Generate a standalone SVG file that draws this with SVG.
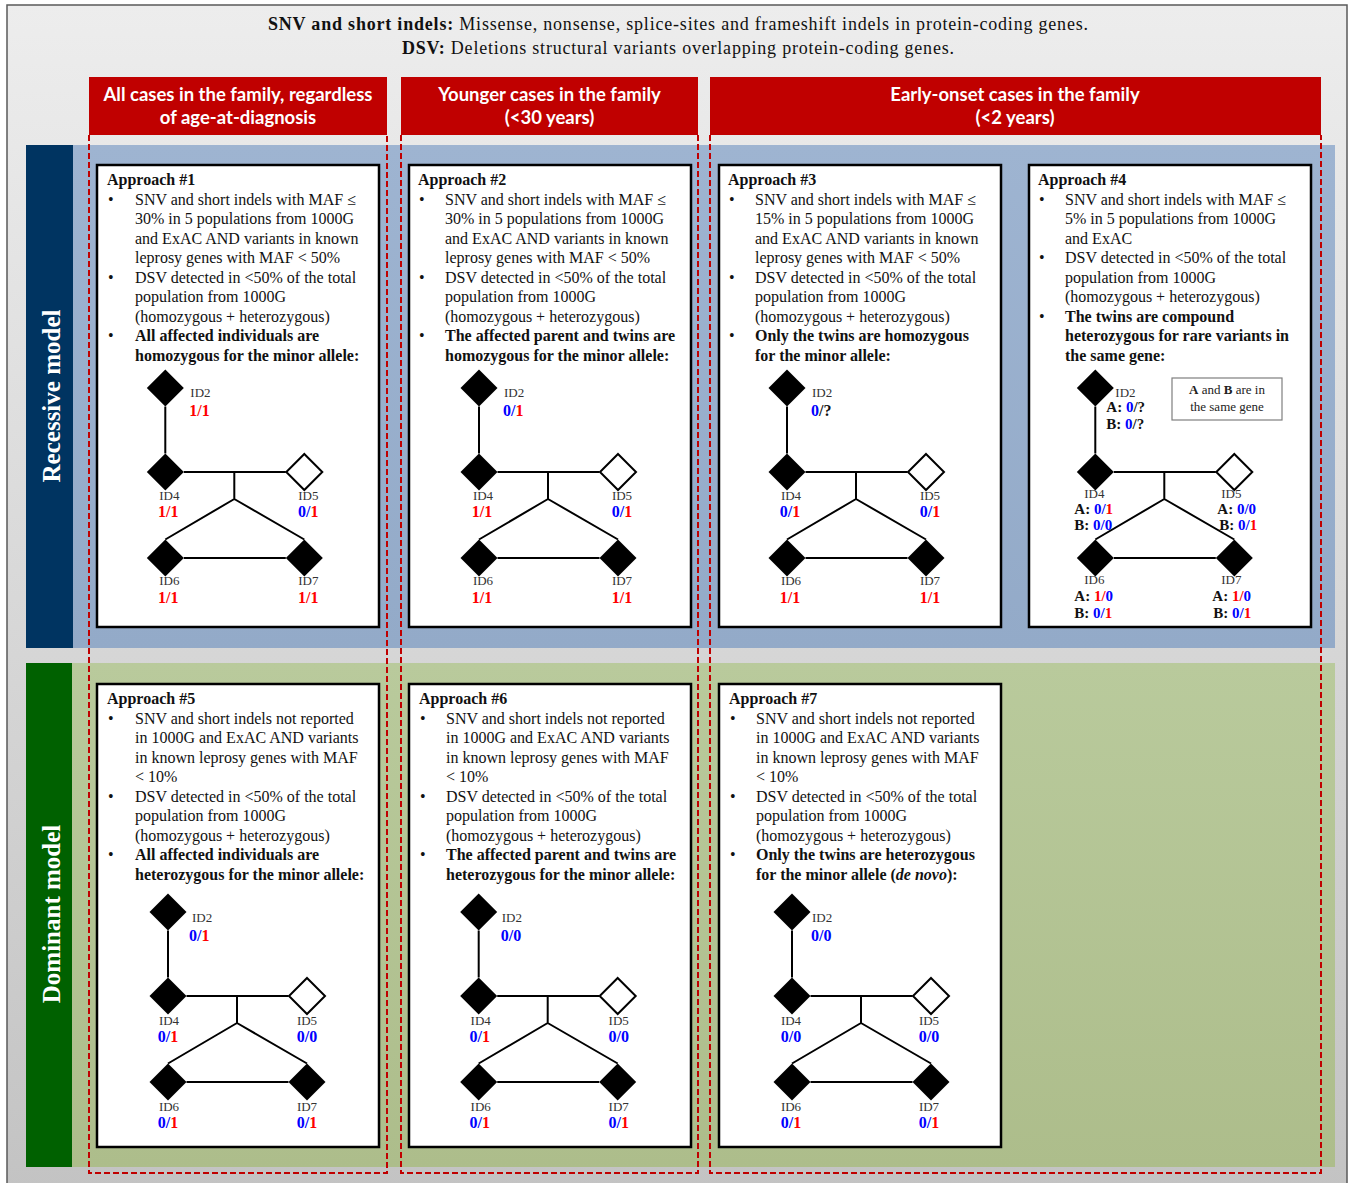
<svg xmlns="http://www.w3.org/2000/svg" xmlns:xlink="http://www.w3.org/1999/xlink" width="1349" height="1183" viewBox="0 0 1349 1183">
<style>
.t{font-family:"Liberation Serif","Times New Roman",serif;font-size:16px;fill:#111}
.b{font-weight:bold}
.i{font-style:italic}
.hd{font-family:Lato,"Open Sans","Liberation Sans",sans-serif;font-size:18.5px;font-weight:bold;fill:#fff;text-anchor:middle}
.side{font-family:"Liberation Serif","Times New Roman",serif;font-size:25px;font-weight:bold;fill:#fff;text-anchor:middle}
.id{font-family:"Liberation Serif","Times New Roman",serif;font-size:13px;fill:#333}
.g{font-family:"Liberation Serif","Times New Roman",serif;font-size:16px;font-weight:bold;fill:#111}
.ab{font-family:"Liberation Serif","Times New Roman",serif;font-size:15px;font-weight:bold;fill:#111}
.m{text-anchor:middle}
.r{fill:#ff0000}
.bl{fill:#0000ff}
.ln{stroke:#000;stroke-width:2;fill:none}
.box{fill:#fff;stroke:#000;stroke-width:2.5}
.dash{fill:none;stroke:#c00000;stroke-width:2;stroke-dasharray:6 3}
.hdr{fill:#c00000}
</style>
<defs>
<linearGradient id="bg" x1="0" y1="0" x2="0" y2="1"><stop offset="0" stop-color="#ededed"/><stop offset="1" stop-color="#c3c3c3"/></linearGradient>
<linearGradient id="blueg" x1="0" y1="0" x2="0" y2="1"><stop offset="0" stop-color="#9eb4d1"/><stop offset="1" stop-color="#93aac8"/></linearGradient>
<linearGradient id="greeng" x1="0" y1="0" x2="0" y2="1"><stop offset="0" stop-color="#b9ca9c"/><stop offset="1" stop-color="#adbd8b"/></linearGradient>
<path id="dk" d="M0,-18.5L18.5,0L0,18.5L-18.5,0Z" fill="#000"/>
<path id="dw" d="M0,-18L18,0L0,18L-18,0Z" fill="#fff" stroke="#000" stroke-width="2"/>
<path id="links" class="ln" d="M0,18.5V65.5M18.5,84H120.5M69,84V111M69,111L0,151.5M69,111L139,151.5M18.5,170H120.5"/>
</defs>

<g id="background">
<rect x="7" y="5" width="1340" height="1186" fill="url(#bg)" stroke="#5a5a5a" stroke-width="1.5"/>
<text class="t" x="678" y="30" text-anchor="middle" style="font-size:18px" textLength="820" lengthAdjust="spacing"><tspan class="b">SNV and short indels:</tspan> Missense, nonsense, splice-sites and frameshift indels in protein-coding genes.</text>
<text class="t" x="678" y="54" text-anchor="middle" style="font-size:18px" textLength="552" lengthAdjust="spacing"><tspan class="b">DSV:</tspan> Deletions structural variants overlapping protein-coding genes.</text>
</g>

<g id="recessive-band">
<rect x="26" y="145" width="1309" height="503" fill="url(#blueg)"/>
<rect x="26" y="145" width="47" height="503" fill="#003461"/>
<text class="side" transform="translate(60,396) rotate(-90)">Recessive model</text>
</g>
<g id="dominant-band">
<rect x="26" y="663" width="1309" height="504" fill="url(#greeng)"/>
<rect x="26" y="663" width="46" height="504" fill="#006100"/>
<text class="side" transform="translate(60,914) rotate(-90)">Dominant model</text>
</g>

<g id="columns">
<path class="dash" d="M89,135V1173H387V135"/>
<path class="dash" d="M401,135V1173H698V135"/>
<path class="dash" d="M710,135V1173H1321V135"/>
</g>

<g id="header-all">
<rect class="hdr" x="89" y="77" width="298" height="58"/>
<text class="hd" x="238" y="101">All cases in the family, regardless</text>
<text class="hd" x="238" y="124">of age-at-diagnosis</text>
</g>
<g id="header-younger">
<rect class="hdr" x="401" y="77" width="297" height="58"/>
<text class="hd" x="549.5" y="101">Younger cases in the family</text>
<text class="hd" x="549.5" y="124">(&lt;30 years)</text>
</g>
<g id="header-early">
<rect class="hdr" x="710" y="77" width="611" height="58"/>
<text class="hd" x="1015" y="101">Early-onset cases in the family</text>
<text class="hd" x="1015" y="124">(&lt;2 years)</text>
</g>

<!-- Approach 1 -->
<g id="approach1">
<rect class="box" x="97" y="165" width="282" height="462"/>
<text class="t">
<tspan x="107" y="185" class="b">Approach #1</tspan>
<tspan x="108" y="204.5">•</tspan><tspan x="135" y="204.5">SNV and short indels with MAF ≤</tspan>
<tspan x="135" y="224">30% in 5 populations from 1000G</tspan>
<tspan x="135" y="243.5">and ExAC AND variants in known</tspan>
<tspan x="135" y="263">leprosy genes with MAF &lt; 50%</tspan>
<tspan x="108" y="282.5">•</tspan><tspan x="135" y="282.5">DSV detected in &lt;50% of the total</tspan>
<tspan x="135" y="302">population from 1000G</tspan>
<tspan x="135" y="321.5">(homozygous + heterozygous)</tspan>
<tspan x="108" y="341">•</tspan><tspan x="135" y="341" class="b">All affected individuals are</tspan>
<tspan x="135" y="360.5" class="b">homozygous for the minor allele:</tspan>
</text>
<g id="ped1" transform="translate(165.3,388)">
<g class="connectors"><use href="#links"/></g>
<g id="p1-ID2"><use href="#dk"/><text class="id" x="25" y="9">ID2</text><text class="g" x="24" y="28"><tspan class="r">1/1</tspan></text></g>
<g id="p1-ID4" transform="translate(0,84)"><use href="#dk"/><text class="id m" x="4" y="28">ID4</text><text class="g m" x="3" y="45"><tspan class="r">1/1</tspan></text></g>
<g id="p1-ID5" transform="translate(139,84)"><use href="#dw"/><text class="id m" x="4" y="28">ID5</text><text class="g m" x="4" y="45"><tspan class="bl">0/</tspan><tspan class="r">1</tspan></text></g>
<g id="p1-ID6" transform="translate(0,170)"><use href="#dk"/><text class="id m" x="4" y="27">ID6</text><text class="g m" x="3" y="45"><tspan class="r">1/1</tspan></text></g>
<g id="p1-ID7" transform="translate(139,170)"><use href="#dk"/><text class="id m" x="4" y="27">ID7</text><text class="g m" x="4" y="45"><tspan class="r">1/1</tspan></text></g>
</g>
</g>

<!-- Approach 2 -->
<g id="approach2">
<rect class="box" x="409" y="165" width="282" height="462"/>
<text class="t">
<tspan x="418" y="185" class="b">Approach #2</tspan>
<tspan x="419" y="204.5">•</tspan><tspan x="445" y="204.5">SNV and short indels with MAF ≤</tspan>
<tspan x="445" y="224">30% in 5 populations from 1000G</tspan>
<tspan x="445" y="243.5">and ExAC AND variants in known</tspan>
<tspan x="445" y="263">leprosy genes with MAF &lt; 50%</tspan>
<tspan x="419" y="282.5">•</tspan><tspan x="445" y="282.5">DSV detected in &lt;50% of the total</tspan>
<tspan x="445" y="302">population from 1000G</tspan>
<tspan x="445" y="321.5">(homozygous + heterozygous)</tspan>
<tspan x="419" y="341">•</tspan><tspan x="445" y="341" class="b">The affected parent and twins are</tspan>
<tspan x="445" y="360.5" class="b">homozygous for the minor allele:</tspan>
</text>
<g id="ped2" transform="translate(479,388)">
<g class="connectors"><use href="#links"/></g>
<g id="p2-ID2"><use href="#dk"/><text class="id" x="25" y="9">ID2</text><text class="g" x="24" y="28"><tspan class="bl">0/</tspan><tspan class="r">1</tspan></text></g>
<g id="p2-ID4" transform="translate(0,84)"><use href="#dk"/><text class="id m" x="4" y="28">ID4</text><text class="g m" x="3" y="45"><tspan class="r">1/1</tspan></text></g>
<g id="p2-ID5" transform="translate(139,84)"><use href="#dw"/><text class="id m" x="4" y="28">ID5</text><text class="g m" x="4" y="45"><tspan class="bl">0/</tspan><tspan class="r">1</tspan></text></g>
<g id="p2-ID6" transform="translate(0,170)"><use href="#dk"/><text class="id m" x="4" y="27">ID6</text><text class="g m" x="3" y="45"><tspan class="r">1/1</tspan></text></g>
<g id="p2-ID7" transform="translate(139,170)"><use href="#dk"/><text class="id m" x="4" y="27">ID7</text><text class="g m" x="4" y="45"><tspan class="r">1/1</tspan></text></g>
</g>
</g>

<!-- Approach 3 -->
<g id="approach3">
<rect class="box" x="719" y="165" width="282" height="462"/>
<text class="t">
<tspan x="728" y="185" class="b">Approach #3</tspan>
<tspan x="729" y="204.5">•</tspan><tspan x="755" y="204.5">SNV and short indels with MAF ≤</tspan>
<tspan x="755" y="224">15% in 5 populations from 1000G</tspan>
<tspan x="755" y="243.5">and ExAC AND variants in known</tspan>
<tspan x="755" y="263">leprosy genes with MAF &lt; 50%</tspan>
<tspan x="729" y="282.5">•</tspan><tspan x="755" y="282.5">DSV detected in &lt;50% of the total</tspan>
<tspan x="755" y="302">population from 1000G</tspan>
<tspan x="755" y="321.5">(homozygous + heterozygous)</tspan>
<tspan x="729" y="341">•</tspan><tspan x="755" y="341" class="b">Only the twins are homozygous</tspan>
<tspan x="755" y="360.5" class="b">for the minor allele:</tspan>
</text>
<g id="ped3" transform="translate(787,388)">
<g class="connectors"><use href="#links"/></g>
<g id="p3-ID2"><use href="#dk"/><text class="id" x="25" y="9">ID2</text><text class="g" x="24" y="28"><tspan class="bl">0</tspan>/?</text></g>
<g id="p3-ID4" transform="translate(0,84)"><use href="#dk"/><text class="id m" x="4" y="28">ID4</text><text class="g m" x="3" y="45"><tspan class="bl">0/</tspan><tspan class="r">1</tspan></text></g>
<g id="p3-ID5" transform="translate(139,84)"><use href="#dw"/><text class="id m" x="4" y="28">ID5</text><text class="g m" x="4" y="45"><tspan class="bl">0/</tspan><tspan class="r">1</tspan></text></g>
<g id="p3-ID6" transform="translate(0,170)"><use href="#dk"/><text class="id m" x="4" y="27">ID6</text><text class="g m" x="3" y="45"><tspan class="r">1/1</tspan></text></g>
<g id="p3-ID7" transform="translate(139,170)"><use href="#dk"/><text class="id m" x="4" y="27">ID7</text><text class="g m" x="4" y="45"><tspan class="r">1/1</tspan></text></g>
</g>
</g>

<!-- Approach 4 -->
<g id="approach4">
<rect class="box" x="1029" y="165" width="282" height="462"/>
<text class="t">
<tspan x="1038" y="185" class="b">Approach #4</tspan>
<tspan x="1039" y="204.5">•</tspan><tspan x="1065" y="204.5">SNV and short indels with MAF ≤</tspan>
<tspan x="1065" y="224">5% in 5 populations from 1000G</tspan>
<tspan x="1065" y="243.5">and ExAC</tspan>
<tspan x="1039" y="263">•</tspan><tspan x="1065" y="263">DSV detected in &lt;50% of the total</tspan>
<tspan x="1065" y="282.5">population from 1000G</tspan>
<tspan x="1065" y="302">(homozygous + heterozygous)</tspan>
<tspan x="1039" y="321.5">•</tspan><tspan x="1065" y="321.5" class="b">The twins are compound</tspan>
<tspan x="1065" y="341" class="b">heterozygous for rare variants in</tspan>
<tspan x="1065" y="360.5" class="b">the same gene:</tspan>
</text>
<g id="legend4">
<rect x="1172" y="378" width="110" height="42" fill="#fff" stroke="#7f7f7f" stroke-width="1.2"/>
<text class="id m" x="1227" y="394" style="fill:#222"><tspan class="b">A</tspan> and <tspan class="b">B</tspan> are in</text>
<text class="id m" x="1227" y="411" style="fill:#222">the same gene</text>
</g>
<g id="ped4" transform="translate(1095.3,388)">
<g class="connectors"><use href="#links"/></g>
<g id="p4-ID2"><use href="#dk"/><text class="id" x="20" y="9">ID2</text>
<text class="ab" x="11" y="24">A: <tspan class="bl">0</tspan>/?</text>
<text class="ab" x="11" y="41">B: <tspan class="bl">0</tspan>/?</text></g>
<g id="p4-ID4" transform="translate(0,84)"><use href="#dk"/><text class="id m" x="-1" y="25.5">ID4</text>
<text class="ab" x="-21" y="41.5">A: <tspan class="bl">0/</tspan><tspan class="r">1</tspan></text>
<text class="ab" x="-21" y="58">B: <tspan class="bl">0/0</tspan></text></g>
<g id="p4-ID5" transform="translate(139,84)"><use href="#dw"/><text class="id m" x="-3" y="25.5">ID5</text>
<text class="ab" x="-17" y="41.5">A: <tspan class="bl">0/0</tspan></text>
<text class="ab" x="-15" y="58">B: <tspan class="bl">0/</tspan><tspan class="r">1</tspan></text></g>
<g id="p4-ID6" transform="translate(0,170)"><use href="#dk"/><text class="id m" x="-1" y="26">ID6</text>
<text class="ab" x="-21" y="43">A: <tspan class="r">1/</tspan><tspan class="bl">0</tspan></text>
<text class="ab" x="-21" y="60">B: <tspan class="bl">0/</tspan><tspan class="r">1</tspan></text></g>
<g id="p4-ID7" transform="translate(139,170)"><use href="#dk"/><text class="id m" x="-3" y="26">ID7</text>
<text class="ab" x="-22" y="43">A: <tspan class="r">1/</tspan><tspan class="bl">0</tspan></text>
<text class="ab" x="-21" y="60">B: <tspan class="bl">0/</tspan><tspan class="r">1</tspan></text></g>
</g>
</g>

<!-- Approach 5 -->
<g id="approach5">
<rect class="box" x="97" y="684" width="282" height="463"/>
<text class="t">
<tspan x="107" y="704" class="b">Approach #5</tspan>
<tspan x="108" y="723.5">•</tspan><tspan x="135" y="723.5">SNV and short indels not reported</tspan>
<tspan x="135" y="743">in 1000G and ExAC AND variants</tspan>
<tspan x="135" y="762.5">in known leprosy genes with MAF</tspan>
<tspan x="135" y="782">&lt; 10%</tspan>
<tspan x="108" y="801.5">•</tspan><tspan x="135" y="801.5">DSV detected in &lt;50% of the total</tspan>
<tspan x="135" y="821">population from 1000G</tspan>
<tspan x="135" y="840.5">(homozygous + heterozygous)</tspan>
<tspan x="108" y="860">•</tspan><tspan x="135" y="860" class="b">All affected individuals are</tspan>
<tspan x="135" y="879.5" class="b">heterozygous for the minor allele:</tspan>
</text>
<g id="ped5" transform="translate(168,912)">
<g class="connectors"><use href="#links"/></g>
<g id="p5-ID2"><use href="#dk"/><text class="id" x="24" y="10">ID2</text><text class="g" x="21" y="29"><tspan class="bl">0/</tspan><tspan class="r">1</tspan></text></g>
<g id="p5-ID4" transform="translate(0,84)"><use href="#dk"/><text class="id m" x="1" y="29">ID4</text><text class="g m" x="0" y="46"><tspan class="bl">0/</tspan><tspan class="r">1</tspan></text></g>
<g id="p5-ID5" transform="translate(139,84)"><use href="#dw"/><text class="id m" x="0" y="29">ID5</text><text class="g m" x="0" y="46"><tspan class="bl">0/0</tspan></text></g>
<g id="p5-ID6" transform="translate(0,170)"><use href="#dk"/><text class="id m" x="1" y="29">ID6</text><text class="g m" x="0" y="46"><tspan class="bl">0/</tspan><tspan class="r">1</tspan></text></g>
<g id="p5-ID7" transform="translate(139,170)"><use href="#dk"/><text class="id m" x="0" y="29">ID7</text><text class="g m" x="0" y="46"><tspan class="bl">0/</tspan><tspan class="r">1</tspan></text></g>
</g>
</g>

<!-- Approach 6 -->
<g id="approach6">
<rect class="box" x="409" y="684" width="282" height="463"/>
<text class="t">
<tspan x="419" y="704" class="b">Approach #6</tspan>
<tspan x="420" y="723.5">•</tspan><tspan x="446" y="723.5">SNV and short indels not reported</tspan>
<tspan x="446" y="743">in 1000G and ExAC AND variants</tspan>
<tspan x="446" y="762.5">in known leprosy genes with MAF</tspan>
<tspan x="446" y="782">&lt; 10%</tspan>
<tspan x="420" y="801.5">•</tspan><tspan x="446" y="801.5">DSV detected in &lt;50% of the total</tspan>
<tspan x="446" y="821">population from 1000G</tspan>
<tspan x="446" y="840.5">(homozygous + heterozygous)</tspan>
<tspan x="420" y="860">•</tspan><tspan x="446" y="860" class="b">The affected parent and twins are</tspan>
<tspan x="446" y="879.5" class="b">heterozygous for the minor allele:</tspan>
</text>
<g id="ped6" transform="translate(478.7,912)">
<g class="connectors"><use href="#links"/></g>
<g id="p6-ID2"><use href="#dk"/><text class="id" x="23" y="10">ID2</text><text class="g" x="22" y="29"><tspan class="bl">0/0</tspan></text></g>
<g id="p6-ID4" transform="translate(0,84)"><use href="#dk"/><text class="id m" x="2" y="29">ID4</text><text class="g m" x="1" y="46"><tspan class="bl">0/</tspan><tspan class="r">1</tspan></text></g>
<g id="p6-ID5" transform="translate(139,84)"><use href="#dw"/><text class="id m" x="1" y="29">ID5</text><text class="g m" x="1" y="46"><tspan class="bl">0/0</tspan></text></g>
<g id="p6-ID6" transform="translate(0,170)"><use href="#dk"/><text class="id m" x="2" y="29">ID6</text><text class="g m" x="1" y="46"><tspan class="bl">0/</tspan><tspan class="r">1</tspan></text></g>
<g id="p6-ID7" transform="translate(139,170)"><use href="#dk"/><text class="id m" x="1" y="29">ID7</text><text class="g m" x="1" y="46"><tspan class="bl">0/</tspan><tspan class="r">1</tspan></text></g>
</g>
</g>

<!-- Approach 7 -->
<g id="approach7">
<rect class="box" x="719" y="684" width="282" height="463"/>
<text class="t">
<tspan x="729" y="704" class="b">Approach #7</tspan>
<tspan x="730" y="723.5">•</tspan><tspan x="756" y="723.5">SNV and short indels not reported</tspan>
<tspan x="756" y="743">in 1000G and ExAC AND variants</tspan>
<tspan x="756" y="762.5">in known leprosy genes with MAF</tspan>
<tspan x="756" y="782">&lt; 10%</tspan>
<tspan x="730" y="801.5">•</tspan><tspan x="756" y="801.5">DSV detected in &lt;50% of the total</tspan>
<tspan x="756" y="821">population from 1000G</tspan>
<tspan x="756" y="840.5">(homozygous + heterozygous)</tspan>
<tspan x="730" y="860">•</tspan><tspan x="756" y="860" class="b">Only the twins are heterozygous</tspan>
<tspan x="756" y="879.5" class="b">for the minor allele (<tspan class="i">de novo</tspan>):</tspan>
</text>
<g id="ped7" transform="translate(792,912)">
<g class="connectors"><use href="#links"/></g>
<g id="p7-ID2"><use href="#dk"/><text class="id" x="20" y="10">ID2</text><text class="g" x="19" y="29"><tspan class="bl">0/0</tspan></text></g>
<g id="p7-ID4" transform="translate(0,84)"><use href="#dk"/><text class="id m" x="-1" y="29">ID4</text><text class="g m" x="-1" y="46"><tspan class="bl">0/0</tspan></text></g>
<g id="p7-ID5" transform="translate(139,84)"><use href="#dw"/><text class="id m" x="-2" y="29">ID5</text><text class="g m" x="-2" y="46"><tspan class="bl">0/0</tspan></text></g>
<g id="p7-ID6" transform="translate(0,170)"><use href="#dk"/><text class="id m" x="-1" y="29">ID6</text><text class="g m" x="-1" y="46"><tspan class="bl">0/</tspan><tspan class="r">1</tspan></text></g>
<g id="p7-ID7" transform="translate(139,170)"><use href="#dk"/><text class="id m" x="-2" y="29">ID7</text><text class="g m" x="-2" y="46"><tspan class="bl">0/</tspan><tspan class="r">1</tspan></text></g>
</g>
</g>
</svg>
